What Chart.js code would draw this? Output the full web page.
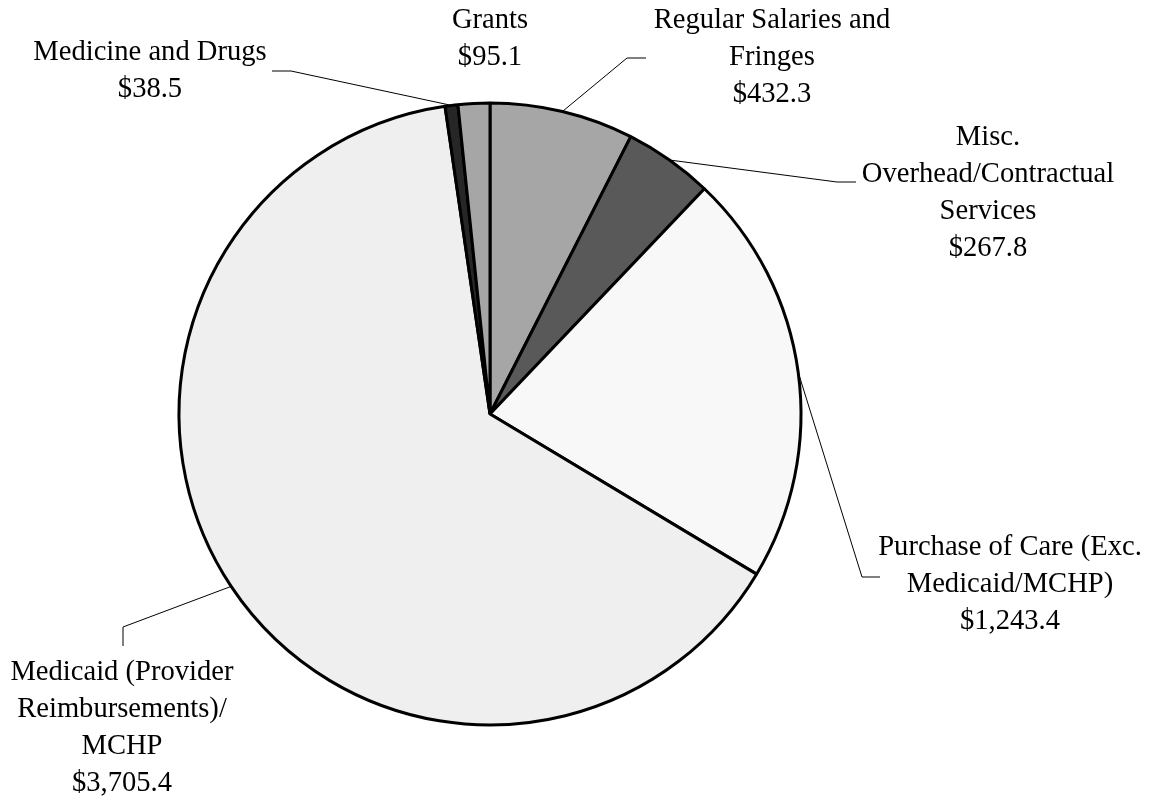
<!DOCTYPE html>
<html>
<head>
<meta charset="utf-8">
<script src="https://cdn.jsdelivr.net/npm/chart.js@4/dist/chart.umd.min.js"></script>
<style>
  html, body { margin: 0; padding: 0; background: #ffffff; }
  #wrap { width: 1162px; height: 802px; }
</style>
</head>
<body>
<div id="wrap"><canvas id="c" width="1162" height="802"></canvas></div>
<script>
// ---- data (clockwise from 12 o'clock) ----
const categories = [
  "Regular Salaries and Fringes",
  "Misc. Overhead/Contractual Services",
  "Purchase of Care (Exc. Medicaid/MCHP)",
  "Medicaid (Provider Reimbursements)/ MCHP",
  "Medicine and Drugs",
  "Grants"
];
const values = [432.3, 267.8, 1243.4, 3705.4, 38.5, 95.1];
const labelLines = [
  ["Regular Salaries and", "Fringes"],
  ["Misc.", "Overhead/Contractual", "Services"],
  ["Purchase of Care (Exc.", "Medicaid/MCHP)"],
  ["Medicaid (Provider", "Reimbursements)/", "MCHP"],
  ["Medicine and Drugs"],
  ["Grants"]
];
const sliceColors = ["#a6a6a6", "#595959", "#f8f8f8", "#efefef", "#262626", "#a6a6a6"];

// ---- label layout (positions only) ----
const labelLayout = [
  { x: 772, y: 20,  leader: [[627, 58], [646, 58]] },
  { x: 988, y: 137, leader: [[837, 182], [856, 182]] },
  { x: 1010, y: 547, leader: [[862, 577], [880, 577]] },
  { x: 122, y: 672, leader: [[123, 627], [123, 646]] },
  { x: 150, y: 52,  leader: [[291, 71], [272, 71]] },
  { x: 490, y: 20,  leader: null }
];
const LINE_H = 37;

function fmt(v) {
  return "$" + v.toLocaleString("en-US", { minimumFractionDigits: 1, maximumFractionDigits: 1 });
}

const labelPlugin = {
  id: "pieLabels",
  afterDatasetsDraw(chart) {
    const ctx = chart.ctx;
    const meta = chart.getDatasetMeta(0);
    ctx.save();
    meta.data.forEach((arc, i) => {
      const L = labelLayout[i];
      if (L.leader) {
        const p = arc.getProps(["x", "y", "startAngle", "endAngle", "outerRadius"], true);
        const mid = (p.startAngle + p.endAngle) / 2;
        const sx = p.x + Math.cos(mid) * p.outerRadius;
        const sy = p.y + Math.sin(mid) * p.outerRadius;
        ctx.beginPath();
        ctx.strokeStyle = "#000000";
        ctx.lineWidth = 1;
        ctx.moveTo(sx, sy);
        L.leader.forEach(pt => ctx.lineTo(pt[0], pt[1]));
        ctx.stroke();
      }
      const lines = labelLines[i].concat([fmt(values[i])]);
      ctx.fillStyle = "#000000";
      ctx.font = "28.6px 'Liberation Serif', 'Times New Roman', serif";
      ctx.textAlign = "center";
      ctx.textBaseline = "middle";
      lines.forEach((t, k) => ctx.fillText(t, L.x, L.y + k * LINE_H));
    });
    ctx.restore();
  }
};

new Chart(document.getElementById("c"), {
  type: "pie",
  data: {
    labels: categories,
    datasets: [{
      data: values,
      backgroundColor: sliceColors,
      borderColor: "#000000",
      borderWidth: 3,
      hoverOffset: 0
    }]
  },
  options: {
    responsive: false,
    animation: false,
    radius: 311,
    layout: { padding: { left: 0, right: 182, top: 26, bottom: 0 } },
    plugins: {
      legend: { display: false },
      tooltip: { enabled: false }
    }
  },
  plugins: [labelPlugin]
});
</script>
</body>
</html>
